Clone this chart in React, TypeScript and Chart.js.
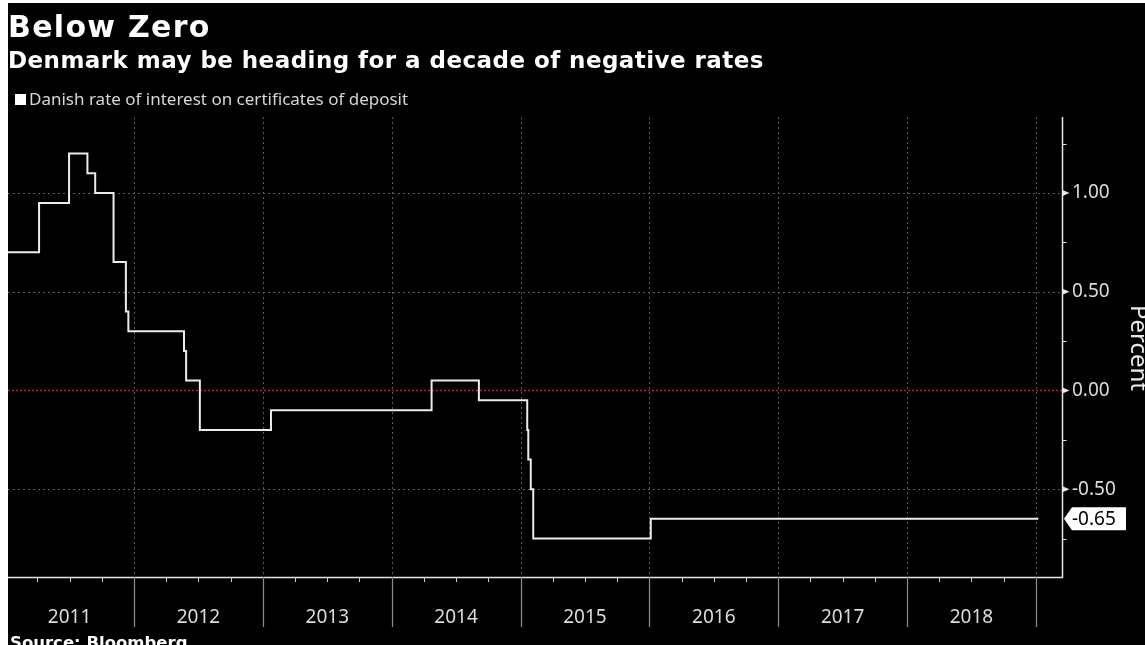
import React, { useEffect, useRef } from "react";
import { Chart, registerables } from "chart.js";

Chart.register(...registerables);

const TITLE = "Below Zero";
const SUBTITLE = "Denmark may be heading for a decade of negative rates";
const LEGEND_LABEL = "Danish rate of interest on certificates of deposit";
const SOURCE = "Source: Bloomberg";
const AXIS_TITLE = "Percent";

// Dates on which the rate changed (value holds until the next date)
const changeDates = [
  "2011-01-09", "2011-04-07", "2011-07-01", "2011-08-22", "2011-09-13",
  "2011-11-04", "2011-12-09", "2011-12-16", "2012-05-22", "2012-05-28",
  "2012-07-06", "2013-01-24", "2014-04-24", "2014-09-05", "2015-01-20",
  "2015-01-23", "2015-01-30", "2015-02-06", "2016-01-05", "2019-01-08",
];
const rates = [
  0.7, 0.95, 1.2, 1.1, 1.0,
  0.65, 0.4, 0.3, 0.2, 0.05,
  -0.2, -0.1, 0.05, -0.05, -0.2,
  -0.35, -0.5, -0.75, -0.65, -0.65,
];

const yearLabels = ["2011", "2012", "2013", "2014", "2015", "2016", "2017", "2018"];
const yearBoundaries = [2012, 2013, 2014, 2015, 2016, 2017, 2018, 2019];
const quarterOffsets = [0.25, 0.5, 0.75];
const yMajorTicks = [1.0, 0.5, 0.0, -0.5];
const yMinorTicks = [1.25, 0.75, 0.25, -0.25, -0.75];

const X_MIN_DATE = "2011-01-09";
const X_MAX_DATE = "2019-03-16";
const Y_MIN = -0.945;
const Y_MAX = 1.385;

function toDecimalYear(d: string): number {
  const [y, m, dd] = d.split("-").map(Number);
  const start = Date.UTC(y, 0, 1);
  const t = Date.UTC(y, m - 1, dd);
  const len = Date.UTC(y + 1, 0, 1) - start;
  return y + (t - start) / len;
}

const SANS = "'Noto Sans', sans-serif";
const BOLD = "'DejaVu Sans', sans-serif";

const decorPlugin = {
  id: "decor",
  beforeDraw(chart: any) {
    const ctx = chart.ctx;
    ctx.save();
    ctx.fillStyle = "#ffffff";
    ctx.fillRect(0, 0, chart.width, chart.height);
    ctx.fillStyle = "#000000";
    ctx.fillRect(8, 3, chart.width - 8, chart.height - 3);
    ctx.restore();
  },
  beforeDatasetsDraw(chart: any) {
    const ctx = chart.ctx;
    const x = chart.scales.x;
    const y = chart.scales.y;
    const area = chart.chartArea;
    ctx.save();
    ctx.strokeStyle = "#5a5a5a";
    ctx.lineWidth = 1;
    ctx.setLineDash([2, 3]);
    for (const yr of yearBoundaries) {
      const px = Math.round(x.getPixelForValue(yr)) + 0.5;
      ctx.beginPath();
      ctx.moveTo(px, area.top);
      ctx.lineTo(px, area.bottom);
      ctx.stroke();
    }
    for (const v of yMajorTicks) {
      const py = Math.round(y.getPixelForValue(v)) + 0.5;
      if (v === 0) {
        ctx.strokeStyle = "#d0102a";
        ctx.lineWidth = 1.5;
        ctx.setLineDash([2, 2]);
      } else {
        ctx.strokeStyle = "#5a5a5a";
        ctx.lineWidth = 1;
        ctx.setLineDash([2, 3]);
      }
      ctx.beginPath();
      ctx.moveTo(area.left, py);
      ctx.lineTo(area.right, py);
      ctx.stroke();
    }
    ctx.restore();
  },
  afterDraw(chart: any) {
    const ctx = chart.ctx;
    const x = chart.scales.x;
    const y = chart.scales.y;
    const area = chart.chartArea;
    ctx.save();
    ctx.setLineDash([]);

    ctx.strokeStyle = "#e6e6e6";
    ctx.lineWidth = 1.5;
    ctx.beginPath();
    ctx.moveTo(area.left, area.bottom + 0.5);
    ctx.lineTo(area.right + 0.5, area.bottom + 0.5);
    ctx.lineTo(area.right + 0.5, area.top);
    ctx.stroke();

    ctx.lineWidth = 1;
    ctx.strokeStyle = "#cfcfcf";
    for (let yr = 2011; yr <= 2019; yr++) {
      for (const q of quarterOffsets) {
        const v = yr + q;
        const px = x.getPixelForValue(v);
        if (px < area.left || px > area.right) continue;
        const rx = Math.round(px) + 0.5;
        ctx.beginPath();
        ctx.moveTo(rx, area.bottom);
        ctx.lineTo(rx, area.bottom + 5);
        ctx.stroke();
      }
    }
    ctx.strokeStyle = "#8a8a8a";
    ctx.lineWidth = 1.2;
    for (const yr of yearBoundaries) {
      const rx = Math.round(x.getPixelForValue(yr)) + 0.5;
      ctx.beginPath();
      ctx.moveTo(rx, area.bottom);
      ctx.lineTo(rx, area.bottom + 50);
      ctx.stroke();
    }
    ctx.fillStyle = "#dcdcdc";
    ctx.font = `19px ${SANS}`;
    ctx.textAlign = "center";
    ctx.textBaseline = "alphabetic";
    yearLabels.forEach((lab) => {
      const yr = Number(lab);
      const px = x.getPixelForValue(yr + 0.5);
      ctx.fillText(lab, px, 623);
    });

    const ax = area.right + 0.5;
    ctx.fillStyle = "#e6e6e6";
    for (const v of yMajorTicks) {
      const py = y.getPixelForValue(v);
      ctx.beginPath();
      ctx.moveTo(ax, py - 3);
      ctx.lineTo(ax + 7, py);
      ctx.lineTo(ax, py + 3);
      ctx.closePath();
      ctx.fill();
    }
    ctx.strokeStyle = "#e6e6e6";
    ctx.lineWidth = 1;
    for (const v of yMinorTicks) {
      const py = Math.round(y.getPixelForValue(v)) + 0.5;
      ctx.beginPath();
      ctx.moveTo(ax, py);
      ctx.lineTo(ax + 4, py);
      ctx.stroke();
    }

    const last = rates[rates.length - 1];
    const ly = y.getPixelForValue(last);
    const tipX = area.right + 2;
    ctx.fillStyle = "#ffffff";
    ctx.beginPath();
    ctx.moveTo(tipX, ly);
    ctx.lineTo(tipX + 8, ly - 11.5);
    ctx.lineTo(1126, ly - 11.5);
    ctx.lineTo(1126, ly + 11.5);
    ctx.lineTo(tipX + 8, ly + 11.5);
    ctx.closePath();
    ctx.fill();
    ctx.fillStyle = "#000000";
    ctx.font = `19px ${SANS}`;
    ctx.textAlign = "left";
    ctx.textBaseline = "middle";
    ctx.fillText(last.toFixed(2), 1072, ly + 1);

    ctx.save();
    ctx.translate(1131, (area.top + area.bottom) / 2 + 1);
    ctx.rotate(Math.PI / 2);
    ctx.fillStyle = "#e6e6e6";
    ctx.font = `24px ${SANS}`;
    ctx.textAlign = "center";
    ctx.textBaseline = "alphabetic";
    ctx.fillText(AXIS_TITLE, 0, 0);
    ctx.restore();

    ctx.textAlign = "left";
    ctx.textBaseline = "alphabetic";
    ctx.fillStyle = "#ffffff";
    ctx.font = `bold 30px ${BOLD}`;
    (ctx as any).letterSpacing = "1.3px";
    ctx.fillText(TITLE, 8, 37);
    ctx.font = `bold 23px ${BOLD}`;
    (ctx as any).letterSpacing = "0.45px";
    ctx.fillText(SUBTITLE, 8, 68);
    (ctx as any).letterSpacing = "0px";

    ctx.fillStyle = "#ffffff";
    ctx.fillRect(15, 94, 11, 11);
    ctx.fillStyle = "#d6d6d6";
    ctx.font = `17px ${SANS}`;
    ctx.textBaseline = "alphabetic";
    ctx.fillText(LEGEND_LABEL, 29, 105);

    ctx.fillStyle = "#ffffff";
    ctx.font = `bold 16.5px ${BOLD}`;
    ctx.fillText(SOURCE, 10, 648);

    ctx.restore();
  },
};

export default function App() {
  const ref = useRef<HTMLCanvasElement | null>(null);

  useEffect(() => {
    document.body.style.margin = "0";
    document.body.style.overflow = "hidden";
    const canvas = ref.current;
    if (!canvas) return;
    const points = changeDates.map((d, i) => ({ x: toDecimalYear(d), y: rates[i] }));
    const chart = new Chart(canvas, {
      type: "line",
      data: {
        datasets: [
          {
            label: LEGEND_LABEL,
            data: points,
            stepped: "before",
            borderColor: "#ececec",
            borderWidth: 2,
            pointRadius: 0,
            fill: false,
          },
        ],
      },
      options: {
        animation: false,
        responsive: false,
        devicePixelRatio: 1,
        layout: { padding: { left: 8, top: 117, right: 0, bottom: 68 } },
        plugins: {
          legend: { display: false },
          title: { display: false },
          tooltip: { enabled: false },
        },
        scales: {
          x: {
            type: "linear",
            display: false,
            min: toDecimalYear(X_MIN_DATE),
            max: toDecimalYear(X_MAX_DATE),
          },
          y: {
            type: "linear",
            position: "right",
            min: Y_MIN,
            max: Y_MAX,
            afterBuildTicks: (s: any) => {
              s.ticks = yMajorTicks.map((v) => ({ value: v }));
            },
            afterFit: (s: any) => {
              s.width = 83;
            },
            grid: { display: false, drawTicks: false },
            border: { display: false },
            ticks: {
              padding: 10,
              color: "#dcdcdc",
              font: { family: SANS, size: 19 },
              callback: (v: any) => Number(v).toFixed(2),
            },
          },
        },
      },
      plugins: [decorPlugin],
    });
    return () => chart.destroy();
  }, []);

  return (
    <canvas
      ref={ref}
      width={1145}
      height={645}
      style={{ position: "fixed", left: 0, top: 0, width: 1145, height: 645, display: "block" }}
    />
  );
}
